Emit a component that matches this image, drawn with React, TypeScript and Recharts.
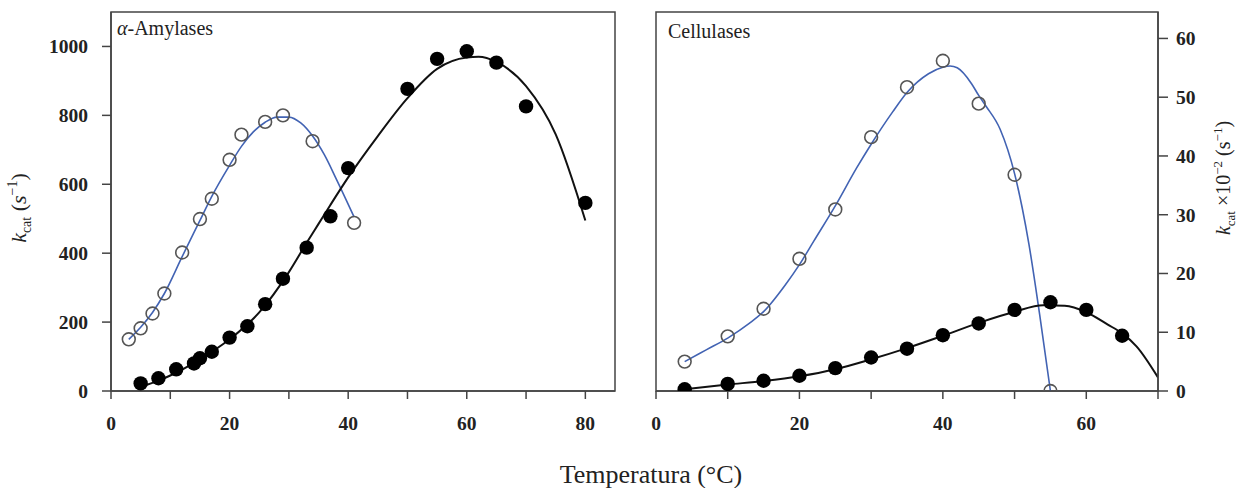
import React from "react";
import {
  ComposedChart,
  Line,
  Scatter,
  XAxis,
  YAxis,
  ReferenceArea,
  Label,
} from "recharts";

// α-Amylases, filled points (black)
const amyFilledX = [5, 8, 11, 14, 15, 17, 20, 23, 26, 29, 33, 37, 40, 50, 55, 60, 65, 70, 80];
const amyFilledY = [22, 37, 63, 80, 95, 114, 155, 188, 252, 326, 416, 507, 647, 877, 964, 986, 953, 826, 546];
// α-Amylases, open points (blue fit)
const amyOpenX = [3, 5, 7, 9, 12, 15, 17, 20, 22, 26, 29, 34, 41];
const amyOpenY = [150, 182, 225, 283, 402, 499, 558, 671, 744, 781, 800, 725, 488];
// fitted curves
const amyFilledFitX = [5, 8, 10, 15, 20, 25, 30, 33, 35, 37, 40, 45, 50, 55, 60, 62, 65, 70, 75, 80];
const amyFilledFitY = [12, 30, 45, 92, 150, 228, 345, 430, 485, 540, 620, 740, 850, 935, 968, 970, 955, 885, 745, 495];
const amyOpenFitX = [3, 5, 7, 9, 12, 15, 17, 20, 22, 24, 26, 28, 30, 32, 34, 36, 38, 41];
const amyOpenFitY = [150, 185, 228, 283, 390, 495, 565, 655, 710, 752, 780, 795, 795, 778, 740, 685, 615, 505];

// Cellulases
const celFilledX = [4, 10, 15, 20, 25, 30, 35, 40, 45, 50, 55, 60, 65];
const celFilledY = [0.3, 1.2, 1.75, 2.6, 3.9, 5.7, 7.2, 9.5, 11.5, 13.8, 15.1, 13.8, 9.4];
const celOpenX = [4, 10, 15, 20, 25, 30, 35, 40, 45, 50, 55];
const celOpenY = [5.0, 9.3, 14.0, 22.5, 30.9, 43.2, 51.7, 56.2, 48.9, 36.8, 0];
const celFilledFitX = [4, 10, 15, 20, 25, 30, 35, 40, 45, 50, 54, 57, 60, 63, 65, 67, 70];
const celFilledFitY = [0.3, 1.1, 1.7, 2.5, 3.7, 5.4, 7.3, 9.4, 11.6, 13.5, 14.6, 14.5, 13.4, 11.3, 9.8, 7.6, 2.3];
const celOpenFitX = [4, 7, 10, 13, 15, 18, 20, 22, 25, 28, 30, 33, 35, 38, 40, 41, 42, 44, 45, 46, 48, 50, 52, 53.5, 55];
const celOpenFitY = [5, 7, 9, 11.5, 13.5, 18, 21.5, 25.5, 31.5, 38, 42, 47.5, 50.8, 54, 55.1, 55.3, 55, 52.3, 50.3, 48.5, 44.5, 37, 25, 13, 0];

// axis ticks
const amyTicksX = [0, 10, 20, 30, 40, 50, 60, 70, 80];
const amyTicksY = [0, 200, 400, 600, 800, 1000];
const celTicksX = [0, 10, 20, 30, 40, 50, 60, 70];
const celTicksY = [0, 10, 20, 30, 40, 50, 60];

const pts = (xs: number[], ys: number[]) => xs.map((x, i) => ({ x, y: ys[i] }));

const serif = '"Liberation Serif", "Times New Roman", serif';
const tickStyle = { fontFamily: serif, fontSize: 19.5, fontWeight: 700, fill: "#222" };
const frame = "#444";
const blue = "#4263b3";

const every20 = (v: number) => (v % 20 === 0 ? String(v) : "");

function FilledDot(props: any) {
  const { cx, cy } = props;
  return <circle cx={cx} cy={cy} r={7.2} fill="#000" />;
}

function OpenDot(props: any) {
  const { cx, cy } = props;
  return <circle cx={cx} cy={cy} r={6.4} fill="none" stroke="#555" strokeWidth={1.6} />;
}

const AmyTitle = (props: any) => {
  const vb = props.viewBox;
  return (
    <text x={vb.x + 6} y={vb.y + 23} fontFamily={serif} fontSize={20} fill="#222">
      <tspan fontStyle="italic">α</tspan>-Amylases
    </text>
  );
};

const CelTitle = (props: any) => {
  const vb = props.viewBox;
  return (
    <text x={vb.x + 12} y={vb.y + 26} fontFamily={serif} fontSize={20} fill="#222">
      Cellulases
    </text>
  );
};

const LeftYLabel = (props: any) => {
  const vb = props.viewBox;
  const cx = vb.x - 15;
  const cy = 208;
  return (
    <text transform={`translate(${cx},${cy}) rotate(-90)`} textAnchor="middle" fontFamily={serif} fontSize={22} fill="#222">
      <tspan fontStyle="italic">k</tspan>
      <tspan fontSize={14} dy={5}>cat</tspan>
      <tspan dy={-5}> (</tspan>
      <tspan fontStyle="italic">s</tspan>
      <tspan fontSize={14} dy={-9}>−1</tspan>
      <tspan dy={9}>)</tspan>
    </text>
  );
};

const RightYLabel = (props: any) => {
  const vb = props.viewBox;
  const cx = vb.x + vb.width + 22;
  const cy = 178;
  return (
    <text transform={`translate(${cx},${cy}) rotate(-90)`} textAnchor="middle" fontFamily={serif} fontSize={20} fill="#222">
      <tspan fontStyle="italic">k</tspan>
      <tspan fontSize={13} dy={5}>cat</tspan>
      <tspan dy={-5}> ×10</tspan>
      <tspan fontSize={13} dy={-8}>−2</tspan>
      <tspan dy={8}> (s</tspan>
      <tspan fontSize={13} dy={-8}>−1</tspan>
      <tspan dy={8}>)</tspan>
    </text>
  );
};

function AmylaseChart() {
  return (
    <ComposedChart width={640} height={488} margin={{ top: 12, right: 25, left: 41, bottom: 57 }}>
      <XAxis
        dataKey="x"
        type="number"
        domain={[0, 85]}
        ticks={amyTicksX}
        interval={0}
        tickFormatter={every20}
        tickSize={8}
        tickMargin={17}
        height={40}
        stroke={frame}
        strokeWidth={1.5}
        tick={tickStyle}
        allowDataOverflow
      />
      <YAxis
        type="number"
        domain={[0, 1100]}
        ticks={amyTicksY}
        interval={0}
        width={70}
        tickSize={9}
        tickMargin={14}
        stroke={frame}
        strokeWidth={1.5}
        tick={tickStyle}
        allowDataOverflow
      >
        <Label content={LeftYLabel} />
      </YAxis>
      <ReferenceArea x1={0} x2={85} y1={0} y2={1100} fill="none" stroke={frame} strokeWidth={1.5}>
        <Label content={AmyTitle} />
      </ReferenceArea>
      <Line data={pts(amyOpenFitX, amyOpenFitY)} dataKey="y" type="monotone" stroke={blue} strokeWidth={1.6} dot={false} isAnimationActive={false} />
      <Line data={pts(amyFilledFitX, amyFilledFitY)} dataKey="y" type="monotone" stroke="#111" strokeWidth={2} dot={false} isAnimationActive={false} />
      <Scatter data={pts(amyOpenX, amyOpenY)} dataKey="y" shape={OpenDot} isAnimationActive={false} />
      <Scatter data={pts(amyFilledX, amyFilledY)} dataKey="y" shape={FilledDot} isAnimationActive={false} />
    </ComposedChart>
  );
}

function CellulaseChart() {
  return (
    <ComposedChart width={628} height={488} margin={{ top: 12, right: 40, left: 36, bottom: 57 }}>
      <XAxis
        dataKey="x"
        type="number"
        domain={[0, 70]}
        ticks={celTicksX}
        interval={0}
        tickFormatter={every20}
        tickSize={8}
        tickMargin={17}
        height={40}
        stroke={frame}
        strokeWidth={1.5}
        tick={tickStyle}
        allowDataOverflow
      />
      <YAxis
        type="number"
        orientation="right"
        domain={[0, 64.5]}
        ticks={celTicksY}
        interval={0}
        width={50}
        tickSize={10}
        tickMargin={8}
        stroke={frame}
        strokeWidth={1.5}
        tick={tickStyle}
        allowDataOverflow
      >
        <Label content={RightYLabel} />
      </YAxis>
      <ReferenceArea x1={0} x2={70} y1={0} y2={64.5} fill="none" stroke={frame} strokeWidth={1.5}>
        <Label content={CelTitle} />
      </ReferenceArea>
      <Line data={pts(celOpenFitX, celOpenFitY)} dataKey="y" type="monotone" stroke={blue} strokeWidth={1.6} dot={false} isAnimationActive={false} />
      <Line data={pts(celFilledFitX, celFilledFitY)} dataKey="y" type="monotone" stroke="#111" strokeWidth={2} dot={false} isAnimationActive={false} />
      <Scatter data={pts(celOpenX, celOpenY)} dataKey="y" shape={OpenDot} isAnimationActive={false} />
      <Scatter data={pts(celFilledX, celFilledY)} dataKey="y" shape={FilledDot} isAnimationActive={false} />
    </ComposedChart>
  );
}

export default function App() {
  return (
    <div style={{ position: "absolute", left: 0, top: 0, width: 1248, height: 488, background: "#fff" }}>
      <div style={{ position: "absolute", left: 0, top: 0 }}>
        <AmylaseChart />
      </div>
      <div style={{ position: "absolute", left: 620, top: 0 }}>
        <CellulaseChart />
      </div>
      <svg width={1248} height={488} style={{ position: "absolute", left: 0, top: 0, pointerEvents: "none" }}>
        <text x={651} y={483} textAnchor="middle" fontFamily={serif} fontSize={26} fill="#222">
          Temperatura (°C)
        </text>
      </svg>
    </div>
  );
}
